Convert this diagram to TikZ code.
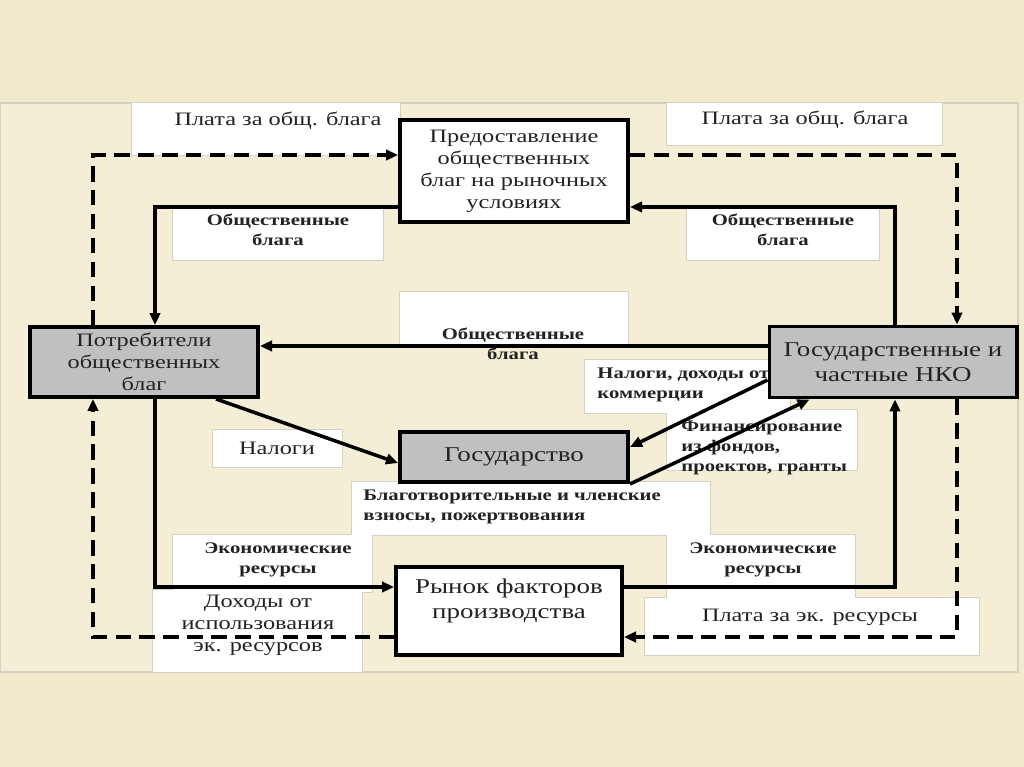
\documentclass[tikz,border=0pt]{standalone}
\usepackage{fontspec}
\setmainfont{Liberation Serif}[FakeStretch=1.28]
\usetikzlibrary{arrows.meta, calc}
\definecolor{cpaper}{HTML}{F2EACC}
\definecolor{cpanel}{HTML}{F5EED6}
\definecolor{cgrey}{HTML}{C0C0C0}
\definecolor{cedge}{HTML}{D4D0C2}
\definecolor{cink}{HTML}{222222}
\tikzset{
  every picture/.style={line width=2pt},
  block/.style={draw=black, fill=#1, line width=2.8pt, align=center, inner sep=2pt, text=cink, font=\fontsize{13.5}{15.6}\selectfont},
  block/.default=white,
  bigtext/.style={font=\fontsize{15}{18}\selectfont},
  flow/.style={-{Triangle[length=3mm, width=2.6mm]}, line width=2.5pt},
  pay/.style={flow, dash pattern=on 11pt off 6pt, line width=2.7pt},
  lbl/.style={align=center, inner sep=0pt, text=cink, font=\fontsize{13.5}{15.6}\selectfont},
  lblb/.style={align=center, inner sep=0pt, text=cink, font=\bfseries\fontsize{11.5}{14}\selectfont},
}
% white text panels behind the flows
\newcommand\lblboxes{132/103/400/155, 667/103/942/145, 173/207/383/260, 687/207/879/260,
  400/292/628/345, 213/430/342/467, 585/360/790/413, 667/410/857/470, 352/482/710/535,
  173/535/372/592, 153/590/362/672, 667/535/855/598, 645/598/979/655}

\begin{document}
\begin{tikzpicture}[x=0.025cm, y=-0.025cm]
  \fill[cpaper] (0,0) rectangle (1024,767);
  \useasboundingbox (0,0) rectangle (1024,767);
  \draw[cedge, fill=cpanel, line width=1.2pt] (0,103) rectangle (1018,672);
  \foreach \a/\b/\c/\d in \lblboxes \draw[cedge, line width=1.2pt] (\a,\b) rectangle (\c,\d);
  \foreach \a/\b/\c/\d in \lblboxes \fill[white] (\a,\b) rectangle (\c,\d);

  % labels
  \node[lbl]  (pay1)   at (278,121) {Плата за общ. блага};
  \node[lbl]  (pay2)   at (805,120) {Плата за общ. блага};
  \node[lblb] (goods1) at (278,230) {Общественные\\блага};
  \node[lblb] (goods2) at (783,230) {Общественные\\блага};
  \node[lblb] (goods3) at (513,344) {Общественные\\блага};
  \node[lbl]  (tax)    at (277,448) {Налоги};
  \node[lblb, anchor=north west, align=left] (taxinc) at (596,367) {Налоги, доходы от\\коммерции};
  \node[lblb, anchor=north west, align=left] (fund)   at (680,420) {Финансирование\\из фондов,\\проектов, гранты};
  \node[lblb, anchor=north west, align=left] (donat)  at (362,489) {Благотворительные и членские\\взносы, пожертвования};
  \node[lblb] (res1)   at (278,560) {Экономические\\ресурсы};
  \node[lbl]  (inc)    at (258,625) {Доходы от\\использования\\эк. ресурсов};
  \node[lblb] (res2)   at (763,560) {Экономические\\ресурсы};
  \node[lbl]  (pay3)   at (810,617) {Плата за эк. ресурсы};

  % corners of the flows
  \coordinate (tl) at (93,155);  \coordinate (tr) at (957,155);
  \coordinate (bl) at (93,637);  \coordinate (br) at (957,637);
  \coordinate (sl) at (155,207); \coordinate (sr) at (895,207);
  \coordinate (ml) at (155,587); \coordinate (mr) at (895,587);

  % blocks
  \node[block, minimum width=5.7cm, minimum height=2.55cm] (supply) at (514,171)
    {Предоставление\\общественных\\благ на рыночных\\условиях};
  \node[block=cgrey, minimum width=5.7cm, minimum height=1.75cm] (consumers) at (144,362)
    {Потребители\\общественных\\благ};
  \node[block=cgrey, bigtext, minimum width=6.175cm, minimum height=1.775cm] (nko) at (893,362)
    {Государственные и\\частные НКО};
  \node[block=cgrey, bigtext, minimum width=5.7cm, minimum height=1.25cm] (state) at (514,457)
    {Государство};
  \node[block, bigtext, minimum width=5.65cm, minimum height=2.2cm] (market) at (509,611)
    {Рынок факторов\\производства\\ };

  % money flows (dashed)
  \draw[pay] (tl |- consumers.north) -- (tl) -- (tl -| supply.west);
  \draw[pay] (tr -| supply.east) -- (tr) -- (tr |- nko.north);
  \draw[pay] (br |- nko.south) -- (br) -- (br -| market.east);
  \draw[pay] (bl -| market.west) -- (bl) -- (bl |- consumers.south);

  % goods and resources
  \draw[flow] (sl -| supply.west) -- (sl) -- (sl |- consumers.north);
  \draw[flow] (sr |- nko.north) -- (sr) -- (sr -| supply.east);
  \draw[flow] ([yshift=0.4cm]nko.west) -- ([yshift=0.4cm]consumers.east);
  \draw[flow] ([xshift=1.8cm]consumers.south) -- ([yshift=-0.15cm]state.west);
  \draw[flow] ([yshift=-0.45cm]nko.west) -- ([yshift=0.25cm]state.east);
  \draw[flow] (state.south east) -- ([xshift=1.05cm]nko.south west);
  \draw[flow] (consumers.south -| ml) -- (ml) -- (ml -| market.west);
  \draw[flow] (ml -| market.east) -- (mr) -- (mr |- nko.south);
\end{tikzpicture}
\end{document}
